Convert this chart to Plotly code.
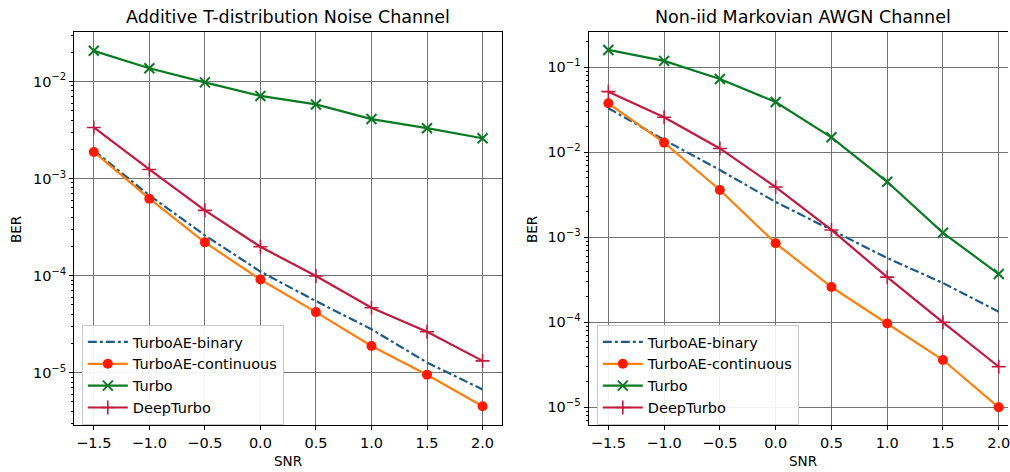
import plotly.graph_objects as go

snr = [-1.5, -1.0, -0.5, 0.0, 0.5, 1.0, 1.5, 2.0]

# Left: Additive T-distribution Noise Channel
t_binary = [1.95e-3, 6.7e-4, 2.6e-4, 1.1e-4, 5.45e-5, 2.8e-5, 1.27e-5, 6.7e-6]
t_cont = [1.88e-3, 6.2e-4, 2.2e-4, 9.1e-5, 4.2e-5, 1.88e-5, 9.5e-6, 4.5e-6]
t_turbo = [2.07e-2, 1.37e-2, 9.8e-3, 7.1e-3, 5.8e-3, 4.1e-3, 3.3e-3, 2.6e-3]
t_deep = [3.36e-3, 1.24e-3, 4.7e-4, 1.98e-4, 9.9e-5, 4.66e-5, 2.64e-5, 1.32e-5]

# Right: Non-iid Markovian AWGN Channel
m_binary = [3.3e-2, 1.4e-2, 6.2e-3, 2.6e-3, 1.22e-3, 5.7e-4, 2.9e-4, 1.33e-4]
m_cont = [3.77e-2, 1.3e-2, 3.6e-3, 8.5e-4, 2.6e-4, 9.7e-5, 3.6e-5, 1.0e-5]
m_turbo = [0.16, 0.119, 0.0728, 0.039, 0.015, 4.5e-3, 1.13e-3, 3.7e-4]
m_deep = [0.0517, 0.0258, 0.0111, 3.9e-3, 1.22e-3, 3.4e-4, 1.0e-4, 3.0e-5]

names = ["TurboAE-binary", "TurboAE-continuous", "Turbo", "DeepTurbo"]
titles = ["Additive T-distribution Noise Channel", "Non-iid Markovian AWGN Channel"]
xticks = [-1.5, -1.0, -0.5, 0.0, 0.5, 1.0, 1.5, 2.0]
xticktext = ["\u22121.5", "\u22121.0", "\u22120.5", "0.0", "0.5", "1.0", "1.5", "2.0"]
left_yticks = [1e-5, 1e-4, 1e-3, 1e-2]
right_yticks = [1e-5, 1e-4, 1e-3, 1e-2, 1e-1]
ylabels = {1e-5: "10<sup>\u22125</sup>", 1e-4: "10<sup>\u22124</sup>", 1e-3: "10<sup>\u22123</sup>",
           1e-2: "10<sup>\u22122</sup>", 1e-1: "10<sup>\u22121</sup>"}

C_BIN = "#1d5a86"
C_ORANGE = "#ff7f0e"
C_RED = "#ff1a00"
C_GREEN = "#0a7a22"
C_DEEP = "#c21a3c"
FONT = "DejaVu Sans"

fig = go.Figure()

def add_series(xa, ya, leg, b, c, t, d):
    fig.add_trace(go.Scatter(x=snr, y=b, mode="lines", name=names[0], xaxis=xa, yaxis=ya, legend=leg,
                             line=dict(color=C_BIN, width=2.2, dash="dashdot")))
    fig.add_trace(go.Scatter(x=snr, y=c, mode="lines+markers", name=names[1], xaxis=xa, yaxis=ya, legend=leg,
                             line=dict(color=C_ORANGE, width=2.2),
                             marker=dict(symbol="circle", size=10, color=C_RED, line=dict(width=0))))
    fig.add_trace(go.Scatter(x=snr, y=t, mode="lines+markers", name=names[2], xaxis=xa, yaxis=ya, legend=leg,
                             line=dict(color=C_GREEN, width=2.2),
                             marker=dict(symbol="x-thin", size=10, color=C_GREEN, line=dict(width=2, color=C_GREEN))))
    fig.add_trace(go.Scatter(x=snr, y=d, mode="lines+markers", name=names[3], xaxis=xa, yaxis=ya, legend=leg,
                             line=dict(color=C_DEEP, width=2.2),
                             marker=dict(symbol="cross-thin", size=10, color=C_DEEP, line=dict(width=1.6, color=C_DEEP))))

add_series("x", "y", "legend", t_binary, t_cont, t_turbo, t_deep)
add_series("x2", "y2", "legend2", m_binary, m_cont, m_turbo, m_deep)

def minor_vals(lo, hi):
    vals = []
    for e in range(lo, hi):
        for k in range(2, 10):
            vals.append(k * 10.0 ** e)
    return vals

tickfont = dict(family=FONT, size=14.5, color="black")
xcommon = dict(tickmode="array", tickvals=xticks, ticktext=xticktext, showgrid=True, gridcolor="#737373",
               gridwidth=1, showline=True, linecolor="black", linewidth=1.3, ticks="outside", ticklen=4,
               tickcolor="black", tickfont=tickfont, zeroline=False, ticklabeloverflow="allow")
ycommon = dict(type="log", tickmode="array", showgrid=True, gridcolor="#737373", gridwidth=1,
               showline=True, linecolor="black", linewidth=1.3, ticks="outside", ticklen=4,
               tickcolor="black", tickfont=tickfont, zeroline=False)

ydom = [1 - 425 / 472, 1 - 32 / 472]
legfont = dict(family=FONT, size=14.5, color="black")
fig.update_layout(
    width=1010, height=472,
    margin=dict(l=0, r=0, t=0, b=0),
    paper_bgcolor="white", plot_bgcolor="white",
    font=dict(family=FONT, color="black"),
    xaxis=dict(domain=[74.5 / 1010, 503 / 1010], range=[-1.675, 2.175], mirror=True, anchor="y", **xcommon),
    yaxis=dict(domain=ydom, range=[-5.54, -1.49], mirror=True, anchor="x",
               tickvals=left_yticks, ticktext=[ylabels[v] for v in left_yticks],
               minor=dict(tickmode="array", tickvals=minor_vals(-6, -1), ticks="outside", ticklen=2,
                          tickcolor="black", showgrid=False),
               **ycommon),
    xaxis2=dict(domain=[590 / 1010, 1.0], range=[-1.675, 2.083], mirror=True, anchor="y2", **xcommon),
    yaxis2=dict(domain=ydom, range=[-5.208, -0.585], mirror=False, anchor="x2",
                tickvals=right_yticks, ticktext=[ylabels[v] for v in right_yticks],
                minor=dict(tickmode="array", tickvals=minor_vals(-6, 0), ticks="outside", ticklen=2,
                           tickcolor="black", showgrid=False),
                **ycommon),
    legend=dict(x=82 / 1010, y=1 - 325 / 472, xanchor="left", yanchor="top", itemwidth=40,
                bgcolor="rgba(255,255,255,0.92)", bordercolor="#c8c8c8", borderwidth=1,
                font=legfont, tracegroupgap=0),
    legend2=dict(x=598 / 1010, y=1 - 325 / 472, xanchor="left", yanchor="top", itemwidth=40,
                 bgcolor="rgba(255,255,255,0.92)", bordercolor="#c8c8c8", borderwidth=1,
                 font=legfont, tracegroupgap=0),
    showlegend=True,
)

ann = []
for cx, t in [(289, titles[0]), (805, titles[1])]:
    ann.append(dict(text=t, x=cx / 1010, y=1 - 17 / 472, xref="paper", yref="paper",
                    xanchor="center", yanchor="middle", showarrow=False,
                    font=dict(family=FONT, size=17.5, color="black")))
for cx in [289, 805]:
    ann.append(dict(text="SNR", x=cx / 1010, y=1 - 461 / 472, xref="paper", yref="paper",
                    xanchor="center", yanchor="middle", showarrow=False,
                    font=dict(family=FONT, size=13.5, color="black")))
for cx in [16, 533]:
    ann.append(dict(text="BER", x=cx / 1010, y=1 - 229 / 472, xref="paper", yref="paper",
                    xanchor="center", yanchor="middle", showarrow=False, textangle=-90,
                    font=dict(family=FONT, size=13.5, color="black")))
fig.update_layout(annotations=ann)

fig.write_html("out.html", config={"displayModeBar": False},
               post_script="document.body.style.margin='0';document.body.style.overflow='hidden';")
